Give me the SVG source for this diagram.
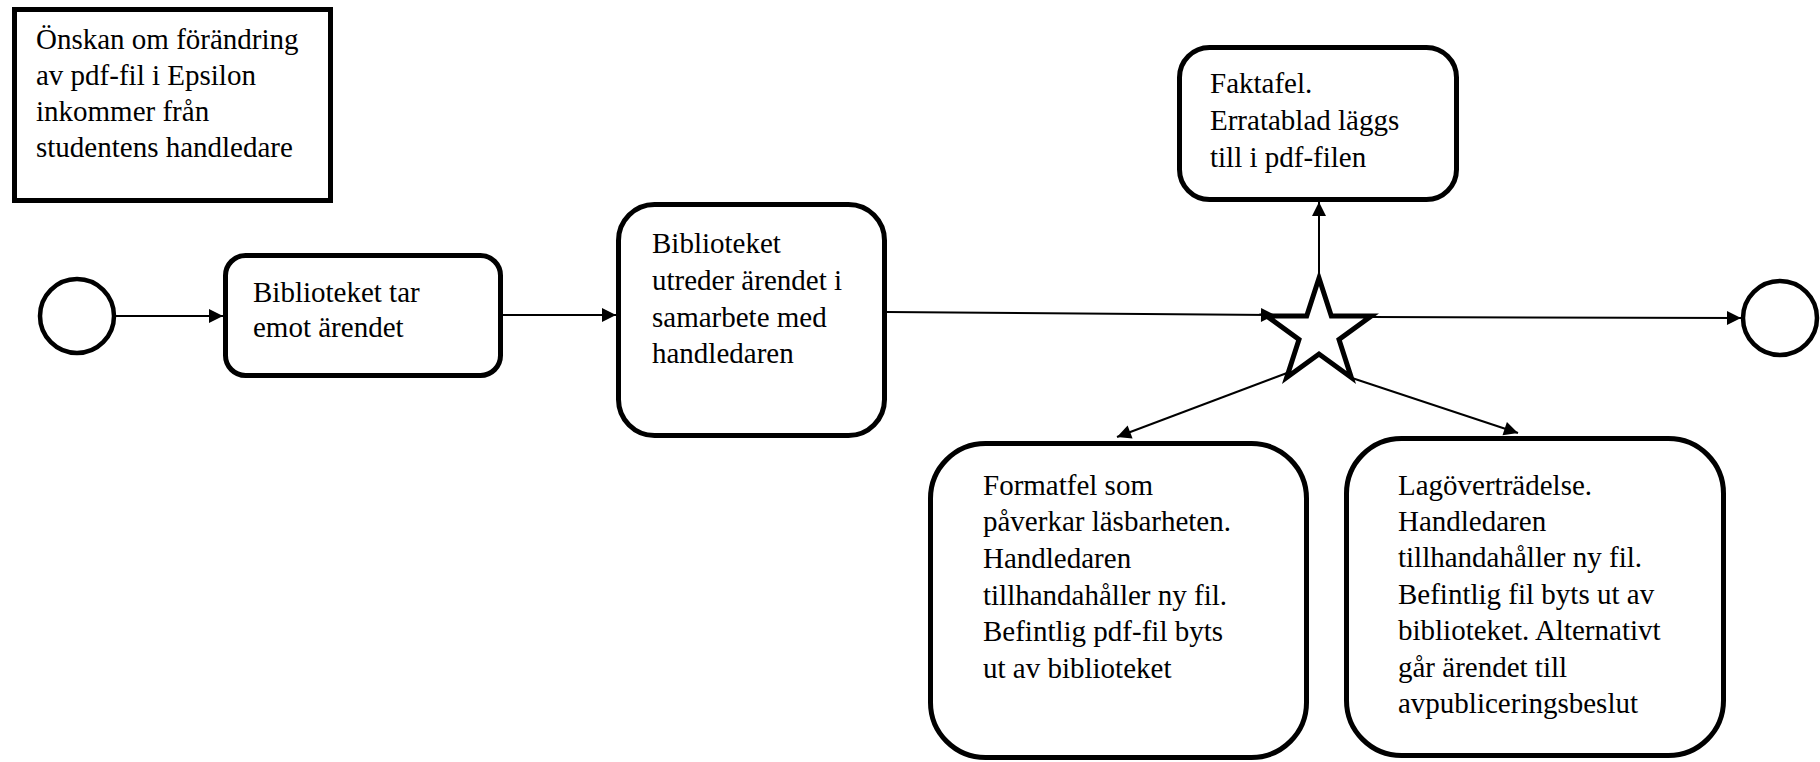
<svg xmlns="http://www.w3.org/2000/svg" width="1820" height="762" viewBox="0 0 1820 762">
  <style>
    .shape { fill: #ffffff; stroke: #000000; stroke-width: 5; stroke-linejoin: miter; }
    .event { fill: #ffffff; stroke: #000000; stroke-width: 4.5; }
    .label { font-family: "Liberation Serif", "Times New Roman", serif; font-size: 29px; fill: #000000; }
    .flow { fill: none; stroke: #000000; stroke-width: 2; marker-end: url(#arrow); }
  </style>
  <defs>
    <marker id="arrow" markerUnits="userSpaceOnUse" markerWidth="16" markerHeight="16" viewBox="0 0 16 16" refX="15" refY="8" orient="auto">
      <path d="M1,1 L15,8 L1,15 Z" fill="#000000"/>
    </marker>
  </defs>
  <rect width="1820" height="762" fill="#ffffff"/>

  <!-- sequence flows -->
  <g id="connectors">
    <line class="flow" x1="114" y1="316" x2="223" y2="316"/>
    <line class="flow" x1="503" y1="315" x2="616" y2="315"/>
    <line class="flow" x1="887" y1="312" x2="1275" y2="315"/>
    <line class="flow" x1="1370" y1="317" x2="1741" y2="318"/>
    <line class="flow" x1="1319" y1="280" x2="1319" y2="202"/>
    <line class="flow" x1="1287" y1="373" x2="1117" y2="437"/>
    <line class="flow" x1="1352" y1="378" x2="1518" y2="433"/>
  </g>

  <!-- trigger note -->
  <g id="trigger-note">
    <rect class="shape" x="14.5" y="9.5" width="316" height="191"/>
    <text class="label" x="36">
      <tspan x="36" y="48.5">Önskan om förändring</tspan>
      <tspan x="36" y="85">av pdf-fil i Epsilon</tspan>
      <tspan x="36" y="121">inkommer från</tspan>
      <tspan x="36" y="157">studentens handledare</tspan>
    </text>
  </g>

  <!-- start event -->
  <g id="start">
    <circle class="event" cx="77" cy="316" r="37"/>
  </g>

  <!-- task: receive the case -->
  <g id="receive">
    <rect class="shape" x="225.5" y="255.5" width="275" height="120" rx="20" ry="20"/>
    <text class="label">
      <tspan x="253" y="302">Biblioteket tar</tspan>
      <tspan x="253" y="337">emot ärendet</tspan>
    </text>
  </g>

  <!-- task: investigate -->
  <g id="investigate">
    <rect class="shape" x="618.5" y="204.5" width="266" height="231" rx="36" ry="36"/>
    <text class="label">
      <tspan x="652" y="253">Biblioteket</tspan>
      <tspan x="652" y="290">utreder ärendet i</tspan>
      <tspan x="652" y="327">samarbete med</tspan>
      <tspan x="652" y="363">handledaren</tspan>
    </text>
  </g>

  <!-- decision star -->
  <g id="decision">
    <path class="shape" d="M1319,278 L1331.3,316 L1371.3,316 L1339,339.5 L1351.3,377.5 L1319,354 L1286.7,377.5 L1299,339.5 L1266.7,316 L1306.7,316 Z"/>
  </g>

  <!-- outcome: factual error -->
  <g id="factual-error">
    <rect class="shape" x="1179.5" y="47.5" width="277" height="152" rx="30" ry="30"/>
    <text class="label">
      <tspan x="1210" y="93">Faktafel.</tspan>
      <tspan x="1210" y="130">Erratablad läggs</tspan>
      <tspan x="1210" y="167">till i pdf-filen</tspan>
    </text>
  </g>

  <!-- outcome: format error -->
  <g id="format-error">
    <rect class="shape" x="930.5" y="443.5" width="376" height="314" rx="55" ry="55"/>
    <text class="label">
      <tspan x="983" y="495">Formatfel som</tspan>
      <tspan x="983" y="531">påverkar läsbarheten.</tspan>
      <tspan x="983" y="568">Handledaren</tspan>
      <tspan x="983" y="605">tillhandahåller ny fil.</tspan>
      <tspan x="983" y="641">Befintlig pdf-fil byts</tspan>
      <tspan x="983" y="678">ut av biblioteket</tspan>
    </text>
  </g>

  <!-- outcome: legal violation -->
  <g id="legal-violation">
    <rect class="shape" x="1346.5" y="438.5" width="377" height="317" rx="55" ry="55"/>
    <text class="label">
      <tspan x="1398" y="495">Lagöverträdelse.</tspan>
      <tspan x="1398" y="531">Handledaren</tspan>
      <tspan x="1398" y="567">tillhandahåller ny fil.</tspan>
      <tspan x="1398" y="604">Befintlig fil byts ut av</tspan>
      <tspan x="1398" y="640">biblioteket. Alternativt</tspan>
      <tspan x="1398" y="677">går ärendet till</tspan>
      <tspan x="1398" y="713">avpubliceringsbeslut</tspan>
    </text>
  </g>

  <!-- end event -->
  <g id="end">
    <circle class="event" cx="1780" cy="318" r="37"/>
  </g>
</svg>
